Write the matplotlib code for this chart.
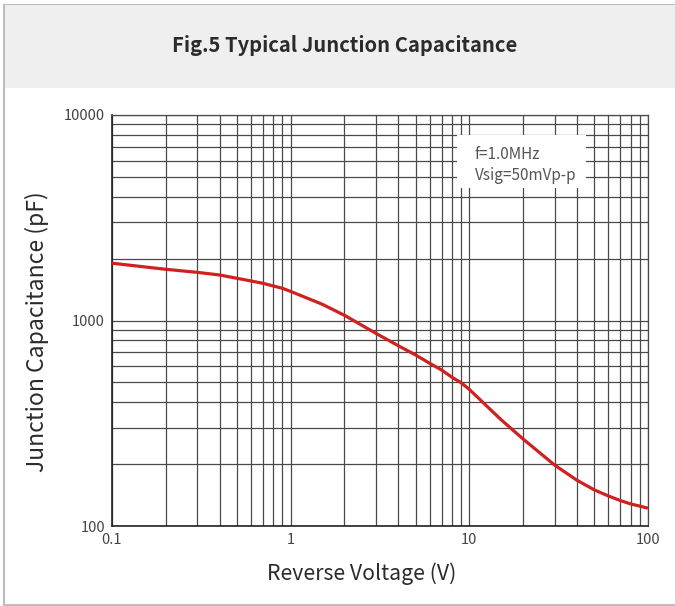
import matplotlib
matplotlib.use("Agg")
import matplotlib.pyplot as plt
from matplotlib.patches import Rectangle
from matplotlib.ticker import LogLocator, NullFormatter

plt.rcParams['font.family'] = ['Noto Sans CJK JP', 'DejaVu Sans']

# data
voltage = [0.1, 0.2, 0.3, 0.4, 0.5, 0.6, 0.7, 0.8, 0.9, 1, 1.5, 2, 3, 4, 5, 6, 7, 8, 9,
           10, 15, 20, 30, 40, 50, 60, 70, 80, 90, 100]
capacitance = [1900, 1775, 1715, 1665, 1605, 1557, 1517, 1472, 1434, 1385, 1200, 1060,
               866, 754, 680, 619, 574, 529, 498, 462, 330, 265, 198, 167, 150, 140,
               133, 128, 125, 122]
x_ticks = [0.1, 1, 10, 100]
x_tick_labels = ['0.1', '1', '10', '100']
y_ticks = [100, 1000, 10000]
y_tick_labels = ['100', '1000', '10000']
note_lines = ['f=1.0MHz', 'Vsig=50mVp-p']

W, H = 675, 606
fig = plt.figure(figsize=(W / 100, H / 100), dpi=100)

# outer frame and header band
fig.patches.append(Rectangle((3.5 / W, 1.5 / H), 1.0, (H - 6) / H, transform=fig.transFigure,
                             facecolor='white', edgecolor='#bdbdbd', lw=1.5, zorder=-2))
fig.patches.append(Rectangle((4.5 / W, 1 - 88 / H), 1.0, 83 / H, transform=fig.transFigure,
                             facecolor='#efefef', edgecolor='none', zorder=-1))
fig.text(0.51, 1 - 46 / H, 'Fig.5 Typical Junction Capacitance', ha='center', va='center',
         fontsize=14.5, fontweight='bold', color='#2b2b2b')

ax = fig.add_axes([112 / W, 1 - 526 / H, 536 / W, 411 / H])
ax.patch.set_alpha(0)
ax.set_xscale('log')
ax.set_yscale('log')
ax.set_xlim(0.1, 100)
ax.set_ylim(100, 10000)

ax.xaxis.set_minor_locator(LogLocator(base=10, subs=range(2, 10)))
ax.yaxis.set_minor_locator(LogLocator(base=10, subs=range(2, 10)))
ax.xaxis.set_minor_formatter(NullFormatter())
ax.yaxis.set_minor_formatter(NullFormatter())
ax.set_xticks(x_ticks)
ax.set_xticklabels(x_tick_labels)
ax.set_yticks(y_ticks)
ax.set_yticklabels(y_tick_labels)
ax.tick_params(which='both', length=0, labelsize=10.5, labelcolor='#444444')
ax.tick_params(axis='x', pad=5)
ax.tick_params(axis='y', pad=5)

ax.grid(True, which='both', color='#4a4a4a', lw=0.9)
ax.set_axisbelow(True)
for s in ax.spines.values():
    s.set_color('#4a4a4a')
    s.set_linewidth(0.9)
ax.spines['left'].set_color('#222222')
ax.spines['bottom'].set_color('#222222')
ax.spines['left'].set_linewidth(1.2)
ax.spines['bottom'].set_linewidth(1.2)

# white note box over the grid
ax.add_patch(Rectangle((0.644, 0.822), 0.24, 0.129, transform=ax.transAxes,
                       facecolor='white', edgecolor='none', zorder=2))
ax.text(0.677, 0.925, '\n'.join(note_lines), transform=ax.transAxes, ha='left', va='top',
        fontsize=11, color='#555555', linespacing=1.3, zorder=3)

ax.plot(voltage, capacitance, color='#d02020', lw=2.3, zorder=4, solid_capstyle='butt')

ax.set_xlabel('Reverse Voltage (V)', fontsize=15.3, color='#2b2b2b')
ax.xaxis.set_label_coords(0.465, -0.088)
ax.set_ylabel('Junction Capacitance (pF)', fontsize=16.5, color='#2b2b2b')
ax.yaxis.set_label_coords(-0.118, 0.472)

fig.savefig('out.png', dpi=100)
